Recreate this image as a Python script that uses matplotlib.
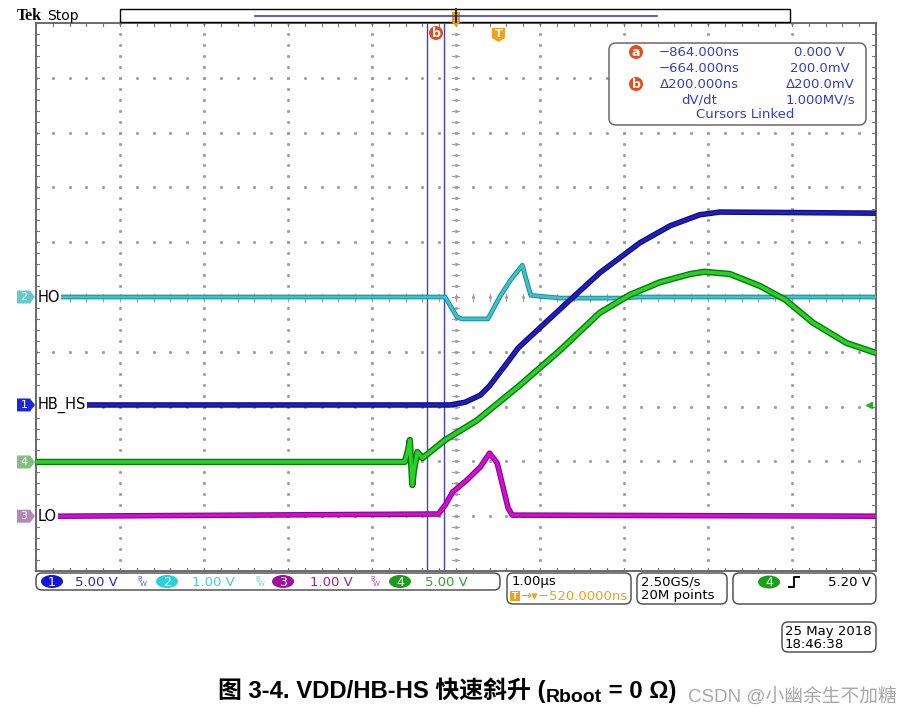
import matplotlib.pyplot as plt
import matplotlib.patheffects as pe
import numpy as np
from matplotlib.patches import Circle, Ellipse, FancyBboxPatch, Polygon, Rectangle

###############################################################################
# Trace data.
# Time in microseconds (trigger point = 0), level in screen divisions
# (0 = centre line, 1 div = one graticule square).
###############################################################################

ho_t = [-5.23, -0.65, -0.58, -0.51, -0.45, -0.14, -0.07, 0.00, 0.13, 0.27,
        0.31, 0.37, 0.72, 1.43, 1.67, 4.48]
ho_div = [0.00, 0.00, -0.18, -0.36, -0.40, -0.40, -0.20, 0.00, 0.31, 0.58,
          0.35, 0.03, -0.02, -0.02, 0.00, 0.00]

hbhs_t = [-4.92, -0.59, -0.41, -0.23, -0.12, 0.06, 0.22, 0.72, 1.19, 1.67,
          2.03, 2.38, 2.62, 4.48]
hbhs_div = [-1.97, -1.97, -1.92, -1.79, -1.62, -1.26, -0.93, -0.22, 0.44,
            0.99, 1.30, 1.50, 1.55, 1.53]

vdd_t = [-5.52, -1.13, -1.09, -1.07, -1.04, -1.02, -0.98, -0.92, -0.83, -0.65,
         -0.27, 0.24, 0.72, 1.19, 1.55, 1.91, 2.27, 2.44, 2.74, 3.10, 3.40,
         3.73, 4.13, 4.48]
vdd_div = [-3.01, -3.01, -2.79, -2.61, -3.43, -3.16, -2.83, -2.94, -2.83,
           -2.61, -2.25, -1.61, -0.97, -0.29, 0.04, 0.27, 0.42, 0.46, 0.42,
           0.20, -0.05, -0.47, -0.84, -1.02]

lo_t = [-5.27, -0.73, -0.65, -0.56, -0.39, -0.23, -0.12, -0.03, 0.04, 0.10,
        0.15, 4.48]
lo_div = [-4.00, -3.96, -3.80, -3.56, -3.34, -3.10, -2.85, -3.03, -3.47,
          -3.85, -3.98, -4.00]

# channel ground markers (div) and labels
channel_ids = ["2", "1", "4", "3"]
channel_levels = [0.00, -1.97, -3.01, -4.00]
channel_names = ["HO", "HB_HS", "", "LO"]

# cursors and timebase
cursor_a = -0.864  # us
cursor_b = -0.664  # us
screen_centre = -0.52  # us, horizontal delay
trigger_level = -1.97  # div, ch4 trigger arrow on the right

readout_left = ["\u2212864.000ns", "\u2212664.000ns", "\u0394200.000ns", "dV/dt"]
readout_right = ["0.000 V", "200.0mV", "\u0394200.0mV", "1.000MV/s"]

ch_numbers = ["1", "2", "3", "4"]
ch_scales = ["5.00 V", "1.00 V", "1.00 V", "5.00 V"]

###############################################################################
# Colours
###############################################################################
c_ch1, c_ch1_edge = "#2020b8", "#0c0c78"
c_ch2, c_ch2_edge = "#3cc4cc", "#1c8a92"
c_ch3, c_ch3_edge = "#d010d0", "#8a008a"
c_ch4, c_ch4_edge = "#2ad02a", "#0a7a0a"
c_text_blue = "#3040c8"
c_orange = "#f0a020"
c_red = "#e84a1c"
c_cursor = "#4040d8"
c_grid = "#a0a0a0"

W, H = 912, 719
L, R, T, B = 36, 876, 23, 571  # plot area in pixels
DIV_X = (R - L) / 10
DIV_Y = (B - T) / 10

fig = plt.figure(figsize=(W / 100, H / 100), dpi=100)
ax = fig.add_axes([L / W, 1 - B / H, (R - L) / W, (B - T) / H])
ov = fig.add_axes([0, 0, 1, 1], zorder=5)
ov.set_xlim(0, W)
ov.set_ylim(H, 0)
ov.axis("off")
ov.patch.set_alpha(0)

xmin, xmax = screen_centre - 5, screen_centre + 5
ax.set_xlim(xmin, xmax)
ax.set_ylim(-5, 5)
ax.set_xticks([])
ax.set_yticks([])
for s in ax.spines.values():
    s.set_color("#6a6a6a")
    s.set_linewidth(1.4)


def px2t(px):
    return xmin + (px - L) / DIV_X


# --- graticule -------------------------------------------------------------
minor_y = np.arange(-5, 5.001, 0.2)
minor_x = np.arange(0, 10.001, 0.2) + xmin
for k in range(1, 10):
    if k == 5:
        continue
    ax.plot(np.full_like(minor_y, xmin + k), minor_y, ls="none", marker="s",
            ms=1.1, color=c_grid, zorder=1)
    ax.plot(minor_x, np.full_like(minor_x, k - 5), ls="none", marker="s",
            ms=1.1, color=c_grid, zorder=1)

# centre cross with minor ticks
tick_x = 3.5 / DIV_X
tick_y = 3.5 / DIV_Y
ax.plot(np.full_like(minor_y, screen_centre), minor_y, ls="none", marker="s",
        ms=1.1, color=c_grid, zorder=1)
ax.plot(minor_x, np.zeros_like(minor_x), ls="none", marker="s", ms=1.1,
        color=c_grid, zorder=1)
for y in minor_y:
    ax.plot([screen_centre - tick_x, screen_centre + tick_x], [y, y],
            color=c_grid, lw=0.8, zorder=1)
for x in minor_x:
    ax.plot([x, x], [-tick_y, tick_y], color=c_grid, lw=0.8, zorder=1)

# border ticks
for x in minor_x:
    ax.plot([x, x], [5, 5 - tick_y], color="#777777", lw=0.8, zorder=1)
    ax.plot([x, x], [-5, -5 + tick_y], color="#777777", lw=0.8, zorder=1)
for y in minor_y:
    ax.plot([xmin, xmin + tick_x], [y, y], color="#777777", lw=0.8, zorder=1)
    ax.plot([xmax, xmax - tick_x], [y, y], color="#777777", lw=0.8, zorder=1)

# --- cursors ---------------------------------------------------------------
ax.axvline(cursor_a, color=c_cursor, lw=1.0, zorder=2)
ax.axvline(cursor_b, color=c_cursor, lw=1.0, zorder=2)

# --- traces ----------------------------------------------------------------
traces = [
    (ho_t, ho_div, c_ch2, c_ch2_edge, 2.0, 3.4),
    (hbhs_t, hbhs_div, c_ch1, c_ch1_edge, 2.4, 4.0),
    (vdd_t, vdd_div, c_ch4, c_ch4_edge, 2.6, 4.6),
    (lo_t, lo_div, c_ch3, c_ch3_edge, 2.4, 4.0),
]
for t, v, col, edge, lw, lw_edge in traces:
    ax.plot(t, v, color=col, lw=lw, solid_joinstyle="round", zorder=3,
            path_effects=[pe.Stroke(linewidth=lw_edge, foreground=edge),
                          pe.Normal()])

# --- channel tags on the left ---------------------------------------------
tag_cols = {"1": "#1a28d8", "2": "#64c8cc", "3": "#b488b8", "4": "#80c080"}
tag_h = 6.5 / DIV_Y
for cid, lvl, name in zip(channel_ids, channel_levels, channel_names):
    x0, x1, xm = px2t(17), px2t(35), px2t(30)
    poly = Polygon([(x0, lvl - tag_h), (xm, lvl - tag_h), (x1, lvl),
                    (xm, lvl + tag_h), (x0, lvl + tag_h)], closed=True,
                   facecolor=tag_cols[cid], edgecolor="none", clip_on=False,
                   zorder=4)
    ax.add_patch(poly)
    ax.text(px2t(24), lvl, cid, color="white", fontsize=8, ha="center",
            va="center", clip_on=False, zorder=5)
    if name:
        ax.text(px2t(38), lvl, name, color="black", fontsize=10.5,
                ha="left", va="center", zorder=5,
                bbox=dict(facecolor="white", edgecolor="none", pad=0.5))

# trigger level arrow on right edge
ax.plot([px2t(869)], [trigger_level], marker="<", ms=5, color="#20b020",
        clip_on=False, zorder=5)

# --- header ----------------------------------------------------------------
ov.text(17, 16, "Tek", fontsize=11.5, fontweight="bold",
        family="Liberation Serif", va="center", ha="left")
ov.text(47, 16, "Stop", fontsize=10, va="center", ha="left")
ov.add_patch(Rectangle((120, 9), 670, 13, facecolor="white",
                       edgecolor="black", lw=1.0))
ov.plot([255, 657], [15.5, 15.5], color=c_cursor, lw=1.2)
ov.plot([456, 456], [9, 22], color="#333333", lw=1.5)
ov.add_patch(Polygon([(452, 12), (460, 12), (460, 22), (456, 27), (452, 22)],
                     closed=True, facecolor=c_orange, edgecolor="none"))

# cursor b tag and expansion T marker
ov.add_patch(Circle((436, 33), 7, facecolor=c_red, edgecolor="none"))
ov.text(436, 33.5, "b", color="white", fontsize=9, fontweight="bold",
        ha="center", va="center")
ov.add_patch(Polygon([(492, 28), (505, 28), (505, 38), (498.5, 42), (492, 38)],
                     closed=True, facecolor=c_orange, edgecolor="none"))
ov.text(498.5, 34, "T", color="white", fontsize=8, fontweight="bold",
        ha="center", va="center")

# --- cursor readout --------------------------------------------------------
ov.add_patch(FancyBboxPatch((609, 43), 257, 82,
                            boxstyle="round,pad=0,rounding_size=7",
                            facecolor="white", edgecolor="#6a6a6a", lw=1.1))
rows_y = [52, 68, 84, 100]
for y, ltxt, rtxt in zip(rows_y, readout_left, readout_right):
    ov.text(699, y, ltxt, color=c_text_blue, fontsize=9.5, ha="center",
            va="center")
    ov.text(820, y, rtxt, color=c_text_blue, fontsize=9.5, ha="center",
            va="center")
ov.text(745, 115, "Cursors Linked", color=c_text_blue, fontsize=9.5,
        ha="center", va="center")
for y, lab in [(52, "a"), (84, "b")]:
    ov.add_patch(Circle((636, y), 7, facecolor=c_red, edgecolor="none"))
    ov.text(636, y + 0.5, lab, color="white", fontsize=9, fontweight="bold",
            ha="center", va="center")

# --- bottom status bar -----------------------------------------------------
box_kw = dict(boxstyle="round,pad=0,rounding_size=6", facecolor="white",
              edgecolor="#555555", lw=1.1)
ov.add_patch(FancyBboxPatch((36, 573), 464, 17, **box_kw))
ov.add_patch(FancyBboxPatch((507, 573), 124, 31, **box_kw))
ov.add_patch(FancyBboxPatch((637, 573), 90, 31, **box_kw))
ov.add_patch(FancyBboxPatch((733, 573), 143, 31, **box_kw))
ov.add_patch(FancyBboxPatch((782, 622), 94, 30, **box_kw))

badge_x = [52, 167, 283, 400]
scale_x = [75, 192, 310, 425]
bw_x = [140, 258, 373]
badge_cols = ["#1414d8", "#28d0d8", "#a010a0", "#18a018"]
scale_cols = ["#2828d0", "#40d0d8", "#a020a0", "#30a830"]
bw_cols = ["#5060e0", "#60d8e0", "#b050b0"]
for i in range(4):
    ov.add_patch(Ellipse((badge_x[i], 581.5), 22, 13, facecolor=badge_cols[i],
                         edgecolor="none"))
    ov.text(badge_x[i], 582, ch_numbers[i], color="white", fontsize=9,
            ha="center", va="center")
    ov.text(scale_x[i], 582, ch_scales[i], color=scale_cols[i], fontsize=9.5,
            ha="left", va="center")
for i in range(3):
    ov.text(bw_x[i], 579, "B", color=bw_cols[i], fontsize=5, ha="center",
            va="center")
    ov.text(bw_x[i] + 3, 584, "W", color=bw_cols[i], fontsize=5,
            ha="center", va="center")

ov.text(512, 582, "1.00\u00b5s", fontsize=9.5, ha="left", va="center")
ov.add_patch(Rectangle((510, 591), 10, 10, facecolor=c_orange,
                       edgecolor="none"))
ov.text(515, 596.5, "T", color="white", fontsize=6.5, fontweight="bold",
        ha="center", va="center")
ov.text(520, 596, "\u2192\u25be\u2212520.0000ns", color=c_orange,
        fontsize=9.5, ha="left", va="center")
ov.text(641, 582, "2.50GS/s", fontsize=9.5, ha="left", va="center")
ov.text(641, 596, "20M points", fontsize=9.5, ha="left", va="center")

ov.add_patch(Ellipse((769, 582), 22, 13, facecolor="#18a018",
                     edgecolor="none"))
ov.text(769, 582.5, "4", color="white", fontsize=9, ha="center", va="center")
ov.plot([789, 794, 794, 799], [587, 587, 577, 577], color="black", lw=1.4)
ov.text(871, 582, "5.20 V", fontsize=9.5, ha="right", va="center")

ov.text(785, 631, "25 May 2018", fontsize=9.5, ha="left", va="center")
ov.text(785, 644, "18:46:38", fontsize=9.5, ha="left", va="center")

# --- caption ---------------------------------------------------------------
fig.canvas.draw()
renderer = fig.canvas.get_renderer()
cap_family = ["Liberation Sans", "Noto Sans CJK SC"]
x = 218
base_y = 698
for txt, size, dy in [("图 3-4. VDD/HB-HS 快速斜升 (", 17.2, 0),
                      ("Rboot", 14, 4),
                      (" = 0 \u03a9)", 17.2, 0)]:
    t = ov.text(x, base_y + dy, txt, fontsize=size, fontweight="bold",
                family=cap_family, ha="left", va="baseline")
    x += t.get_window_extent(renderer).width

ov.text(688, 697, "CSDN @小幽余生不加糖", fontsize=13.5, color="#a8a8a8",
        family=["Liberation Sans", "Noto Sans CJK SC"], ha="left",
        va="center")

fig.savefig("out.png", dpi=100)
